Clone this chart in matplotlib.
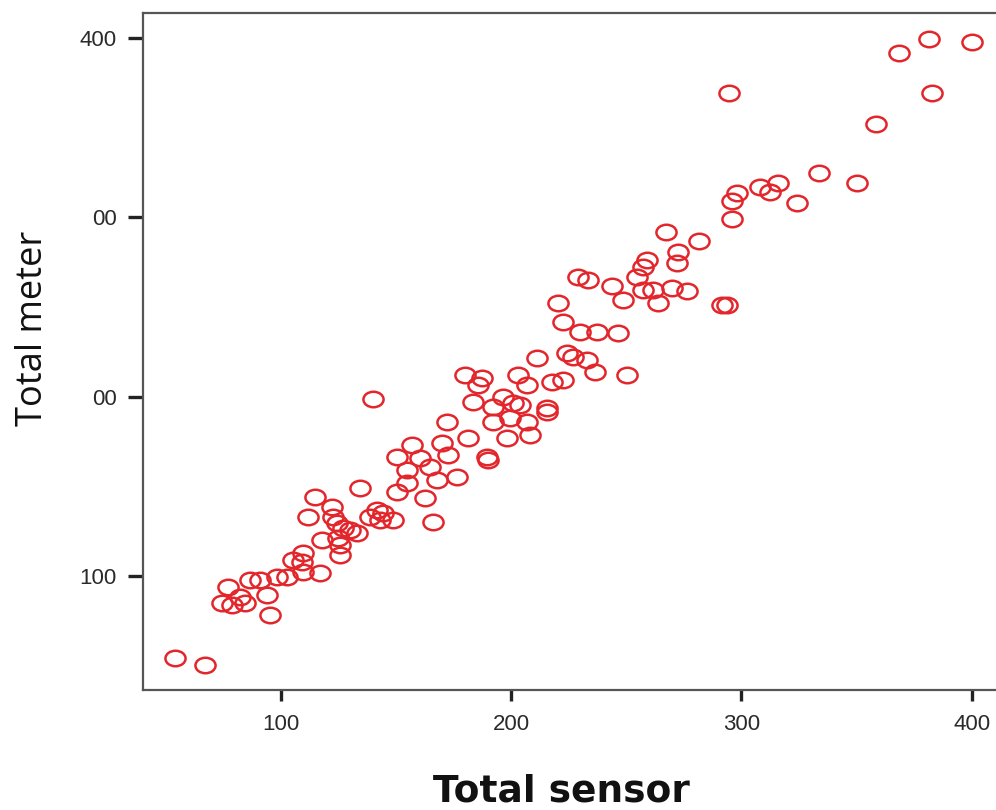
import matplotlib.pyplot as plt
import numpy as np
from matplotlib.path import Path
from matplotlib.transforms import Affine2D

# Total sensor / Total meter pairs
sensor = [
    54.0, 67.0, 77.0, 74.4, 78.7, 82.2, 84.4, 86.5, 90.9, 93.9,
    95.2, 98.3, 102.6, 105.2, 109.6, 109.1, 116.9, 117.8, 111.7, 114.8,
    122.1, 124.3, 125.6, 126.9, 130.0, 134.3, 144.3, 148.6, 122.6, 133.0,
    138.6, 141.7, 124.7, 143.0, 125.6, 109.6,
    140.0, 150.4, 156.9, 160.4, 169.9, 172.5, 164.7, 154.7, 150.4, 154.7,
    167.7, 176.4, 162.5, 166.0,
    179.9, 187.3, 185.5, 183.4, 192.1, 196.4, 172.1, 192.1, 198.1, 181.2,
    189.4, 189.9, 202.9, 206.8, 217.7, 222.4, 200.7, 203.8, 215.5, 215.5,
    199.4, 206.8, 208.1, 211.2,
    220.3, 222.4, 229.8, 237.2, 246.3, 224.2, 226.8, 232.9, 236.3, 250.2,
    229.0, 233.3, 243.7, 248.5,
    267.2, 281.5, 272.4, 272.0, 258.9, 257.2, 254.6, 257.2, 261.5, 263.7,
    269.8, 276.3, 291.5, 293.7,
    295.8, 298.0, 308.0, 312.3, 295.8, 294.5, 368.3, 381.4, 400.0, 382.7,
    358.4, 333.6, 350.1, 324.0, 315.8,
]
meter = [
    54.2, 50.3, 93.8, 84.9, 83.8, 88.2, 84.9, 97.7, 97.7, 89.4,
    78.2, 99.4, 99.4, 108.9, 112.8, 107.8, 101.6, 120.0, 132.9, 144.0,
    138.4, 129.5, 111.7, 126.7, 125.6, 149.0, 135.1, 131.2, 132.9, 123.9,
    132.9, 136.8, 121.1, 131.2, 117.2, 102.2,
    198.7, 166.3, 173.0, 165.8, 174.1, 167.4, 160.7, 159.1, 146.8, 151.8,
    153.5, 155.2, 143.5, 130.1,
    212.1, 210.4, 206.5, 197.0, 194.2, 199.8, 185.8, 185.8, 176.9, 176.9,
    166.3, 164.7, 212.1, 206.5, 208.2, 209.3, 196.4, 195.3, 191.4, 193.7,
    188.1, 185.8, 178.6, 221.5,
    252.2, 241.6, 236.0, 236.0, 235.5, 224.3, 222.1, 220.4, 213.7, 212.1,
    266.7, 265.0, 261.7, 253.9,
    291.8, 286.8, 280.7, 274.5, 276.2, 272.3, 266.7, 259.5, 259.5, 252.2,
    260.6, 258.9, 251.1, 251.1,
    309.1, 313.6, 316.9, 314.1, 299.1, 369.3, 391.6, 399.4, 397.8, 369.3,
    352.0, 324.7, 319.1, 308.0, 319.1,
]

x_ticks = [100, 200, 300, 400]
y_ticks = [100, 200, 300, 400]
y_tick_labels = ["100", "00", "00", "400"]

RED = "#e3262b"
W, H = 996, 810


def main():
    fig = plt.figure(figsize=(W / 100, H / 100), dpi=100)
    # axes run a bit past the right edge, like the cropped original
    ax = fig.add_axes([143 / W, 120 / H, (1010 - 143) / W, (690 - 13) / H])

    # slightly flattened open circle
    ellipse = Path.unit_circle().transformed(Affine2D().scale(1.3, 1.0))
    ax.plot(sensor, meter, linestyle="none", marker=ellipse, ms=14.5,
            mfc="none", mec=RED, mew=1.8)

    ax.set_xlim(40.1, 416.6)
    ax.set_ylim(36.4, 414.0)

    ax.set_xticks(x_ticks)
    ax.set_yticks(y_ticks)

    for side in ["left", "bottom", "top", "right"]:
        ax.spines[side].set_color("#555555")
        ax.spines[side].set_linewidth(1.6)

    ax.tick_params(axis="y", direction="out", length=11, width=2.4,
                   color="#222222", pad=8)
    ax.tick_params(axis="x", direction="out", length=8, width=2.4,
                   color="#222222", pad=9)
    tick_font = dict(family=["Liberation Sans", "DejaVu Sans"], fontsize=16,
                     color="#2a2a2a")
    ax.set_xticklabels([str(t) for t in x_ticks], **tick_font)
    ax.set_yticklabels(y_tick_labels, **tick_font)

    fig.text(561 / W, 1 - 791 / H, "Total sensor", ha="center", va="center",
             fontsize=27, fontweight="bold", family=["DejaVu Sans"],
             color="#111111")
    fig.text(33 / W, 1 - 328 / H, "Total meter", ha="center", va="center",
             rotation=90, fontsize=26, family=["Open Sans", "DejaVu Sans"],
             color="#111111")

    fig.savefig("out.png", dpi=100)
    plt.close(fig)


if __name__ == "__main__":
    main()
